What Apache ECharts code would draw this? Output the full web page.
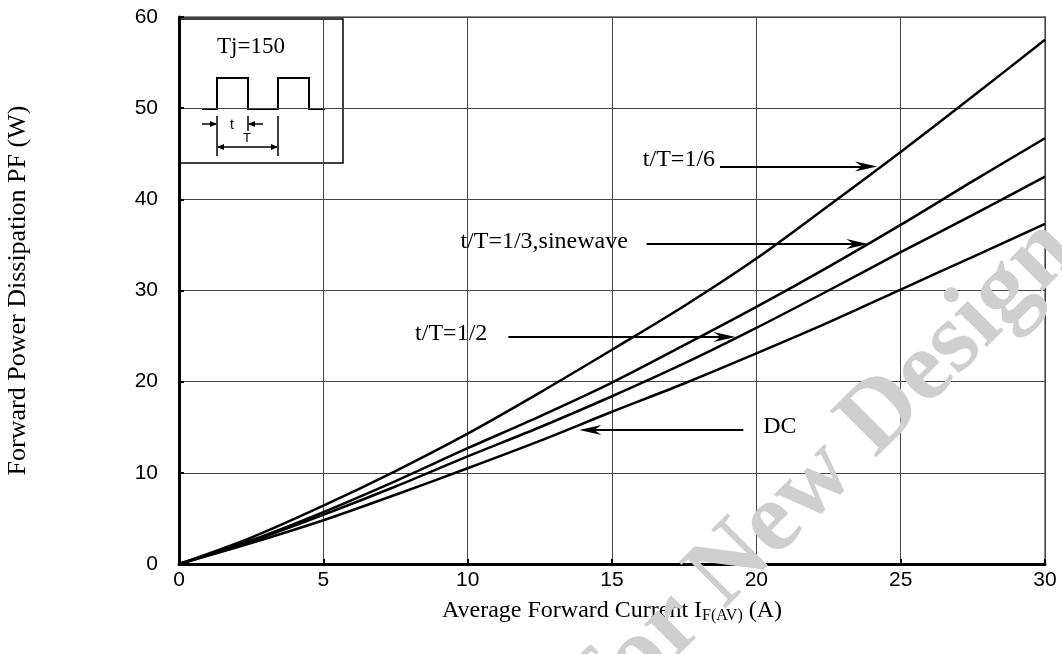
<!DOCTYPE html>
<html><head><meta charset="utf-8">
<script src="https://cdn.jsdelivr.net/npm/echarts@6/dist/echarts.min.js"></script>
<style>html,body{margin:0;padding:0;background:#fff}#c{width:1062px;height:654px}</style>
</head><body><div id="c"></div>
<script>
// ---- data ----
const xValues = [0, 2.5, 5, 7.5, 10, 12.5, 15, 17.5, 20, 22.5, 25, 27.5, 30];
const sixth   = [0, 2.9, 6.4, 10.2, 14.3, 18.8, 23.5, 28.3, 33.5, 39.3, 45.2, 51.3, 57.5];
const third   = [0, 2.6, 5.7, 9.1, 12.7, 16.2, 19.9, 24.0, 28.2, 32.6, 37.2, 42.0, 46.7];
const half    = [0, 2.5, 5.4, 8.5, 11.8, 15.0, 18.4, 22.0, 25.9, 30.0, 34.2, 38.3, 42.5];
const dc      = [0, 2.3, 4.8, 7.6, 10.5, 13.5, 16.7, 19.8, 23.1, 26.5, 30.1, 33.7, 37.3];
const xTicks = [0, 5, 10, 15, 20, 25, 30];
const yTicks = [0, 10, 20, 30, 40, 50, 60];
// annotation labels
const labelTexts = ['t/T=1/6', 't/T=1/3,sinewave', 't/T=1/2', 'DC'];
const labelX = [18.57, 15.55, 10.68, 20.24];
const labelY = [44.4, 35.4, 25.3, 15.1];
const labelAlign = ['right', 'right', 'right', 'left'];
// arrows: from -> to
const arrowFromX = [18.74, 16.2, 11.41, 19.55];
const arrowToX   = [23.8, 23.5, 18.9, 14.25];
const arrowY     = [43.6, 35.1, 24.9, 14.7];

const pair = (xs, ys) => xs.map((x, i) => [x, ys[i]]);
const serif = '"Liberation Serif", "Times New Roman", serif';
const sans = '"Liberation Sans", Arial, sans-serif';
const arrowPath = 'path://M5,0 L10,22 L5,15 L0,22 Z';

const chart = echarts.init(document.getElementById('c'), null, {renderer: 'canvas'});
const lineSeries = (name, ys) => ({
  name, type: 'line', data: pair(xValues, ys), smooth: 0.3, showSymbol: false, symbol: 'none',
  lineStyle: {color: '#000', width: 2.5}, z: 3, animation: false
});
chart.setOption({
  animation: false,
  grid: {left: 179, right: 17, top: 17, bottom: 90, show: true, borderColor: '#8c8c8c', borderWidth: 2,
         containLabel: false, outerBoundsMode: 'none'},
  xAxis: {
    type: 'value', min: 0, max: 30, interval: 5,
    name: '{n|Average Forward Current I}{s|F(AV)}{n| (A)}', nameLocation: 'middle', nameGap: 34,
    nameTextStyle: {rich: {n: {fontFamily: serif, fontSize: 24, color: '#000'}, s: {fontFamily: serif, fontSize: 16, color: '#000', padding: [10, 0, 0, 0]}}},
    axisLine: {show: true, lineStyle: {color: '#000', width: 3}},
    axisTick: {show: true, inside: true, length: 5, lineStyle: {color: '#000', width: 2}},
    axisLabel: {margin: 6, fontFamily: sans, fontSize: 21, color: '#000', formatter: v => xTicks.includes(v) ? String(v) : ''},
    splitLine: {show: true, lineStyle: {color: '#444', width: 1}}
  },
  yAxis: {
    type: 'value', min: 0, max: 60, interval: 10,
    name: 'Forward Power Dissipation PF (W)', nameLocation: 'middle', nameGap: 148,
    nameTextStyle: {fontFamily: serif, fontSize: 26, color: '#000'},
    axisLine: {show: true, lineStyle: {color: '#000', width: 3}},
    axisTick: {show: true, inside: true, length: 5, lineStyle: {color: '#000', width: 2}},
    axisLabel: {margin: 21, fontFamily: sans, fontSize: 21, color: '#000', formatter: v => yTicks.includes(v) ? String(v) : ''},
    splitLine: {show: true, lineStyle: {color: '#444', width: 1}}
  },
  series: [
    lineSeries('t/T=1/6', sixth),
    lineSeries('t/T=1/3,sinewave', third),
    lineSeries('t/T=1/2', half),
    lineSeries('DC', dc),
    {
      type: 'scatter', symbolSize: 0, z: 4, silent: true, itemStyle: {opacity: 1},
      data: labelTexts.map((t, i) => ({value: [labelX[i], labelY[i]], name: t,
        label: {show: true, position: 'inside', align: labelAlign[i], verticalAlign: 'middle', formatter: t,
          fontFamily: serif, fontSize: 24, color: '#000'}})),
      markLine: {
        silent: true, symbol: ['none', arrowPath], symbolSize: [10, 22],
        lineStyle: {color: '#000', width: 2, type: 'solid', opacity: 1}, label: {show: false},
        data: arrowY.map((y, i) => [{coord: [arrowFromX[i], y]}, {coord: [arrowToX[i], y]}])
      }
    }
  ],
  graphic: [
    {type: 'text', x: 1061, y: 236, rotation: 45 * Math.PI / 180, z: 1, silent: true,
     style: {text: 'Not Recommended for New Design', font: 'bold 100px ' + serif, fill: '#cfcfcf', align: 'right', verticalAlign: 'middle'}},
    {type: 'group', z: 10, children: [
      {type: 'rect', shape: {x: 180, y: 19, width: 163, height: 144}, style: {fill: '#fff', stroke: '#000', lineWidth: 1.5}},
      {type: 'text', x: 251, y: 47, style: {text: 'Tj=150', font: '23px ' + serif, fill: '#000', align: 'center', verticalAlign: 'middle'}},
      {type: 'polyline', shape: {points: [[202,109],[217,109],[217,78],[248,78],[248,109],[278,109],[278,78],[309,78],[309,109],[325,109]]}, style: {stroke: '#000', lineWidth: 2, fill: null}},
      {type: 'line', shape: {x1: 217, y1: 116, x2: 217, y2: 156}, style: {stroke: '#000', lineWidth: 1.5}},
      {type: 'line', shape: {x1: 248, y1: 116, x2: 248, y2: 131}, style: {stroke: '#000', lineWidth: 1.5}},
      {type: 'line', shape: {x1: 278, y1: 116, x2: 278, y2: 156}, style: {stroke: '#000', lineWidth: 1.5}},
      {type: 'line', shape: {x1: 202, y1: 124, x2: 216, y2: 124}, style: {stroke: '#000', lineWidth: 1.5}},
      {type: 'polygon', shape: {points: [[217,124],[210,121],[210,127]]}, style: {fill: '#000'}},
      {type: 'line', shape: {x1: 249, y1: 124, x2: 263, y2: 124}, style: {stroke: '#000', lineWidth: 1.5}},
      {type: 'polygon', shape: {points: [[248,124],[255,121],[255,127]]}, style: {fill: '#000'}},
      {type: 'text', x: 232, y: 125, style: {text: 't', font: '14px ' + sans, fill: '#000', align: 'center', verticalAlign: 'middle'}},
      {type: 'text', x: 247, y: 138, style: {text: 'T', font: '13px ' + sans, fill: '#000', align: 'center', verticalAlign: 'middle'}},
      {type: 'line', shape: {x1: 218, y1: 147, x2: 277, y2: 147}, style: {stroke: '#000', lineWidth: 1.5}},
      {type: 'polygon', shape: {points: [[217,147],[224,144],[224,150]]}, style: {fill: '#000'}},
      {type: 'polygon', shape: {points: [[278,147],[271,144],[271,150]]}, style: {fill: '#000'}}
    ]}
  ]
});
</script></body></html>
